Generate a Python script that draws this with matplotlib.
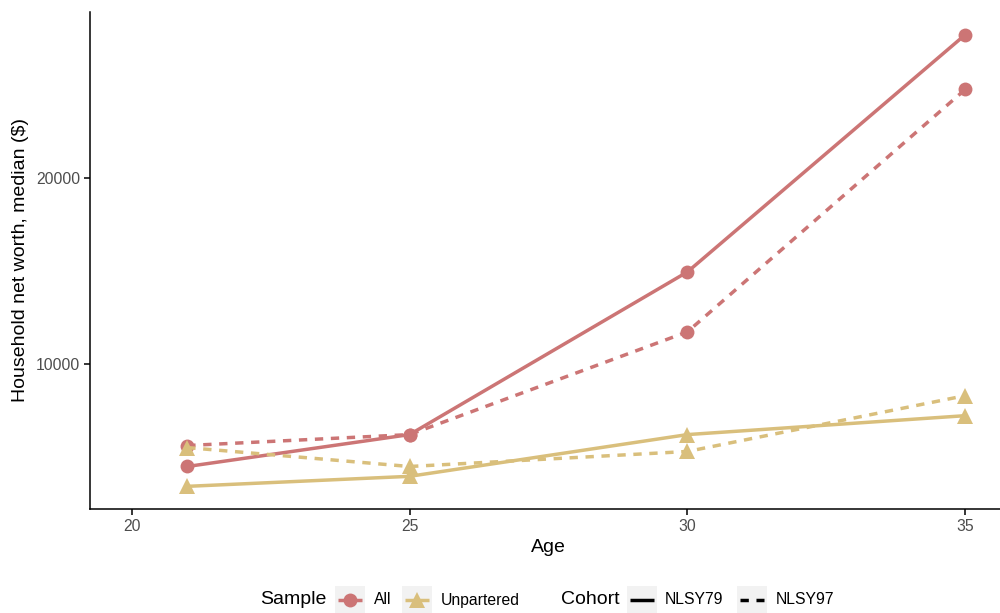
import matplotlib.pyplot as plt
from matplotlib.lines import Line2D
from matplotlib.patches import Rectangle

plt.rcParams['font.family'] = ['Liberation Sans', 'DejaVu Sans']

# DATA
ages = [21, 25, 30, 35]
all_nlsy79 = [4460, 6180, 14950, 27740]
all_nlsy97 = [5590, 6180, 11720, 24790]
unp_nlsy79 = [3390, 3930, 6180, 7200]
unp_nlsy97 = [5480, 4460, 5270, 8280]

x_ticks = [20, 25, 30, 35]
y_ticks = [10000, 20000]

RED = '#CC7575'
GOLD = '#D9BF7C'
DASH = (2.4, 2.2)
LW = 2.5
BIG = 14
SMALL = 11.3

fig = plt.figure(figsize=(10, 6.13), dpi=100)
W, H = 1000, 613
ax = fig.add_axes([90 / W, 104 / H, 917 / W, (509 - 12) / H])

series = [
    (all_nlsy79, RED, 'o', '-'),
    (all_nlsy97, RED, 'o', '--'),
    (unp_nlsy79, GOLD, '^', '-'),
    (unp_nlsy97, GOLD, '^', '--'),
]
for vals, col, mk, ls in series:
    line, = ax.plot(ages, vals, color=col, lw=LW, ls=ls, marker=mk,
                    markersize=10 if mk == 'o' else 11.5, markeredgewidth=0,
                    solid_capstyle='butt', dash_capstyle='butt', zorder=3)
    if ls == '--':
        line.set_dashes(DASH)

ax.set_xlim(19.25, 35.75)
ax.set_ylim(2169, 28960)
ax.set_xticks(x_ticks)
ax.set_yticks(y_ticks)
ax.set_xticklabels([str(t) for t in x_ticks])
ax.set_yticklabels([str(t) for t in y_ticks])
for s in ['top', 'right']:
    ax.spines[s].set_visible(False)
for s in ['left', 'bottom']:
    ax.spines[s].set_linewidth(1.1)
ax.tick_params(length=4, width=1.1, color='black', labelcolor='#4D4D4D',
               labelsize=SMALL, pad=3)
ax.set_xlabel('Age', fontsize=BIG, labelpad=4)
ax.set_ylabel('Household net worth, median ($)', fontsize=BIG, labelpad=5)

# manual ggplot-style legend (pixel coordinates of the figure)
def fx(px):
    return px / W

def fy(py):
    return 1 - py / H

cy = 600
key_w, key_h = 30, 28

def key_box(x0):
    fig.add_artist(Rectangle((fx(x0), fy(cy + key_h / 2)), key_w / W, key_h / H,
                             transform=fig.transFigure, facecolor='#F2F2F2',
                             edgecolor='none'))

def key_line(x0, col, ls, mk=None):
    ln = Line2D([fx(x0 + 3), fx(x0 + key_w - 3)], [fy(cy), fy(cy)],
                transform=fig.transFigure, color=col, lw=LW, ls=ls,
                solid_capstyle='butt', dash_capstyle='butt')
    if ls == '--':
        ln.set_dashes(DASH)
    fig.add_artist(ln)
    if mk:
        fig.add_artist(Line2D([fx(x0 + key_w / 2)], [fy(cy)], transform=fig.transFigure,
                              color=col, marker=mk, ls='none',
                              markersize=10 if mk == 'o' else 11.5, markeredgewidth=0))

fig.text(fx(260), fy(cy), 'Sample', fontsize=BIG, va='center', ha='left')
key_box(335)
key_line(335, RED, '-', 'o')
fig.text(fx(374), fy(cy), 'All', fontsize=SMALL, va='center', ha='left')
key_box(402)
key_line(402, GOLD, '-', '^')
fig.text(fx(441), fy(cy), 'Unpartered', fontsize=SMALL, va='center', ha='left')

fig.text(fx(561), fy(cy), 'Cohort', fontsize=BIG, va='center', ha='left')
key_box(627)
key_line(627, 'black', '-')
fig.text(fx(665), fy(cy), 'NLSY79', fontsize=SMALL, va='center', ha='left')
key_box(737)
key_line(737, 'black', '--')
fig.text(fx(776), fy(cy), 'NLSY97', fontsize=SMALL, va='center', ha='left')

fig.savefig('out.png', dpi=100)
